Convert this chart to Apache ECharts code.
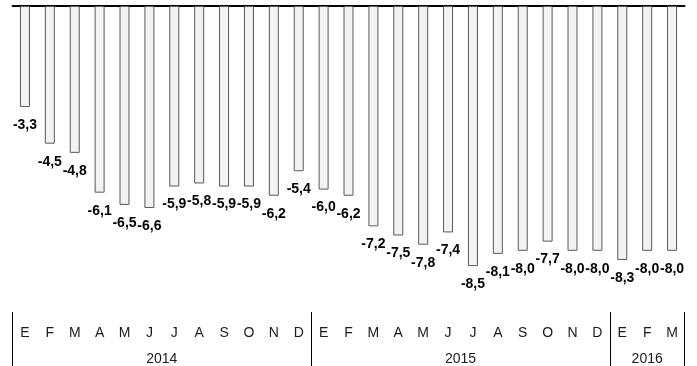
<!DOCTYPE html>
<html>
<head>
<meta charset="utf-8">
<script src="https://cdn.jsdelivr.net/npm/echarts@6/dist/echarts.min.js"></script>
<style>html,body{margin:0;padding:0;background:#fff;}#c{width:697px;height:366px;}</style>
</head>
<body>
<div id="c"></div>
<script>
const months = ['E','F','M','A','M','J','J','A','S','O','N','D',
                'E','F','M','A','M','J','J','A','S','O','N','D',
                'E','F','M'];
const values = [-3.3,-4.5,-4.8,-6.1,-6.5,-6.6,-5.9,-5.8,-5.9,-5.9,-6.2,-5.4,
                -6.0,-6.2,-7.2,-7.5,-7.8,-7.4,-8.5,-8.1,-8.0,-7.7,-8.0,-8.0,
                -8.3,-8.0,-8.0];
const years = ['2014','2015','2016'];
const yearMonthCounts = [12,12,3];

// derived: year boundaries and centers on a 0..N scale
const boundaries = [0];
const centers = [];
yearMonthCounts.forEach(c => { const s = boundaries[boundaries.length-1]; centers.push(s + c/2); boundaries.push(s + c); });
const yearByCenter = {};
centers.forEach((c,i) => { yearByCenter[c] = years[i]; });

const chart = echarts.init(document.getElementById('c'));
const font = 'Liberation Sans, Arial, sans-serif';
chart.setOption({
  animation: false,
  grid: { left: 12.5, right: 12.5, top: 6, bottom: 54, containLabel: false },
  xAxis: [
    { type: 'category', data: months, position: 'top', boundaryGap: true,
      axisLine: { show: true, lineStyle: { color: '#000', width: 2 } },
      axisTick: { show: false }, axisLabel: { show: false }, splitLine: { show: false } },
    { type: 'category', data: months, position: 'bottom', gridIndex: 0, boundaryGap: true,
      axisLine: { show: false }, axisTick: { show: false },
      axisLabel: { show: true, interval: 0, margin: 14, fontSize: 14, color: '#1a1a1a', fontFamily: font } },
    { type: 'value', position: 'bottom', min: 0, max: months.length,
      axisLine: { show: false }, splitLine: { show: false },
      axisTick: { show: true, inside: false, length: 54, customValues: boundaries, lineStyle: { color: '#000', width: 1 } },
      axisLabel: { show: true, margin: 40, fontSize: 14, color: '#1a1a1a', fontFamily: font,
        customValues: centers, formatter: v => yearByCenter[v] || '' } }
  ],
  yAxis: { type: 'value', min: -10, max: 0, show: false, splitLine: { show: false } },
  series: [{
    type: 'bar', xAxisIndex: 0, data: values, barWidth: 10,
    itemStyle: { color: '#f2f2f2', borderColor: '#595959', borderWidth: 1 },
    label: { show: true, position: 'bottom', distance: 11, fontSize: 14, fontWeight: 'bold',
      color: '#000', fontFamily: font, formatter: p => p.value.toFixed(1).replace('.', ',') }
  }]
});
</script>
</body>
</html>
